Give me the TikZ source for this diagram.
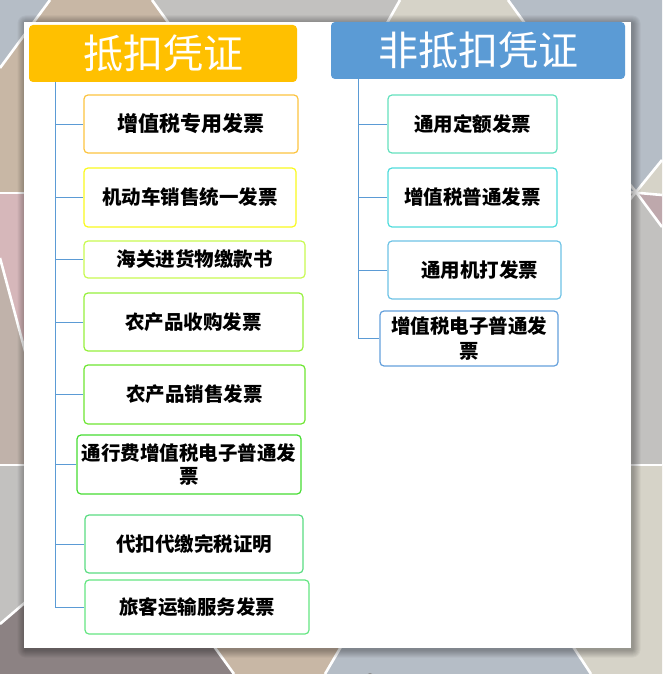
\documentclass[tikz,border=0pt]{standalone}
\usepackage{fontspec}
\setmainfont{Noto Sans CJK SC}
\definecolor{bggray}{RGB}{194,193,191}
\definecolor{bgblue}{RGB}{181,189,198}
\definecolor{bgbeige}{RGB}{200,183,165}
\definecolor{bglbeige}{RGB}{214,211,200}
\definecolor{bgpink}{RGB}{214,183,186}
\definecolor{bgtaupe}{RGB}{192,178,170}
\definecolor{bgmauve}{RGB}{140,130,131}
\definecolor{bgrpink}{RGB}{190,168,172}
\definecolor{hdrorange}{RGB}{255,192,0}
\definecolor{hdrblue}{RGB}{91,155,213}
\definecolor{lineblue}{RGB}{91,155,213}
\definecolor{cA}{RGB}{252,196,64}
\definecolor{cB}{RGB}{250,250,30}
\definecolor{cC}{RGB}{200,250,80}
\definecolor{cD}{RGB}{150,240,60}
\definecolor{cE}{RGB}{110,230,50}
\definecolor{cF}{RGB}{70,220,50}
\definecolor{cG}{RGB}{90,220,130}
\definecolor{cH}{RGB}{100,230,130}
\definecolor{rA}{RGB}{100,225,190}
\definecolor{rB}{RGB}{80,220,220}
\definecolor{rC}{RGB}{110,195,230}
\definecolor{rD}{RGB}{100,160,220}
\begin{document}
\begin{tikzpicture}[x=1pt,y=-1pt,
  box/.style={draw, line width=1.2pt, rounded corners=4pt, fill=white,
    font=\bfseries\fontsize{19.5}{24}\selectfont, align=center, inner sep=0pt},
  hdr/.style={rounded corners=4pt, text=white, inner sep=0pt,
    font=\fontsize{40}{44}\selectfont},
  link/.style={draw=lineblue, line width=0.9pt},
  wline/.style={draw=white, line width=2.6pt}]
\useasboundingbox (0,0) rectangle (662,674);
% background mosaic
\fill[bggray] (0,0) rectangle (662,674);
\fill[bgblue] (0,0) -- (50,0) -- (0,68) -- cycle;
\fill[bgbeige] (50,0) -- (152,0) -- (175,32) -- (175,193) -- (0,193) -- (0,68) -- cycle;
\fill[bglbeige] (400,0) -- (508,0) -- (530,32) -- (380,32) -- cycle;
\fill[bgblue] (508,0) -- (662,0) -- (662,160) -- (636,192) -- (620,192) -- (620,32) -- (530,32) -- cycle;
\fill[bglbeige] (636,192) -- (662,160) -- (662,195) -- cycle;
\fill[bgrpink] (636,193) -- (662,195) -- (662,227) -- cycle;
\fill[bglbeige] (600,465) -- (662,465) -- (662,674) -- (591,674) -- (574,648) -- (600,640) -- cycle;
\fill[bgblue] (340,640) -- (574,648) -- (591,674) -- (325,674) -- cycle;
\fill[bgbeige] (215,648) -- (340,648) -- (325,674) -- (234,674) -- cycle;
\fill[bgmauve] (0,624) -- (30,598) -- (30,648) -- (215,648) -- (234,674) -- (0,674) -- cycle;
\fill[bgpink] (0,193) -- (30,193) -- (30,374) -- (0,258) -- cycle;
\fill[bgtaupe] (0,258) -- (30,374) -- (30,465) -- (0,465) -- cycle;
\draw[wline] (50,0) -- (0,68);
\draw[wline] (152,0) -- (170,25);
\draw[wline] (400,0) -- (386,25);
\draw[wline] (508,0) -- (526,25);
\draw[wline] (0,193) -- (28,193);
\draw[wline] (0,258) -- (28,362);
\draw[wline] (0,465) -- (28,465);
\draw[wline] (0,624) -- (28,600);
\draw[wline] (213,645) -- (234,674);
\draw[wline] (342,645) -- (325,674);
\draw[wline] (572,645) -- (591,674);
\draw[wline] (628,465) -- (662,465);
\draw[wline] (628,202) -- (636,192) -- (662,160);
\draw[wline] (628,182) -- (636,192) -- (662,227);
\draw[wline] (628,192) -- (662,195);
\draw[gray, fill=white, line width=0.8pt] (370,677) circle (3.5);
% panel shadow and panel
\foreach \i in {1,...,8}
  \fill[black, opacity=0.04, rounded corners=\i pt] ({24-\i+1.5},{22-\i+1.5}) rectangle ({631+\i+1.5},{648+\i+1.5});
\fill[white] (24,22) rectangle (631,648);
% headers
\node[hdr, fill=hdrorange, minimum width=268, minimum height=57] (hL) at (163,53.5) {抵扣凭证};
\node[hdr, fill=hdrblue, minimum width=294, minimum height=57] (hR) at (478,50.5) {非抵扣凭证};
% left boxes
\node[box, draw=cA, minimum width=214, minimum height=58, font=\bfseries\fontsize{21}{24}\selectfont] (L1) at (191,124) {增值税专用发票};
\node[box, draw=cB, minimum width=212, minimum height=59] (L2) at (190,197.5) {机动车销售统一发票};
\node[box, draw=cC, minimum width=221, minimum height=37] (L3) at (194.5,259.5) {海关进货物缴款书};
\node[box, draw=cD, minimum width=219, minimum height=58] (L4) at (193.5,322) {农产品收购发票};
\node[box, draw=cE, minimum width=221, minimum height=59] (L5) at (194.5,394.5) {农产品销售发票};
\node[box, draw=cF, minimum width=224, minimum height=59, font=\bfseries\fontsize{19.5}{23}\selectfont] (L6) at (189,464.5) {通行费增值税电子普通发\\票};
\node[box, draw=cG, minimum width=218, minimum height=58] (L7) at (194,544) {代扣代缴完税证明};
\node[box, draw=cH, minimum width=224, minimum height=54] (L8) at (197,607) {旅客运输服务发票};
% right boxes
\node[box, draw=rA, minimum width=169, minimum height=58] (R1) at (472.5,124) {通用定额发票};
\node[box, draw=rB, minimum width=169, minimum height=59] (R2) at (472.5,197.5) {增值税普通发票};
\node[box, draw=rC, minimum width=173, minimum height=58] (R3) at (474.5,270) {\hspace{10pt}通用机打发票};
\node[box, draw=rD, minimum width=178, minimum height=55, font=\bfseries\fontsize{19.5}{25}\selectfont] (R4) at (469,338.5) {增值税电子普通发\\票};
% trunks and branches
\coordinate (tL) at (55,82);
\coordinate (tR) at (358,79);
\draw[link] (tL) -- (tL |- L8.west);
\foreach \n in {L1,L2,L3,L4,L5,L6,L7,L8}
  \draw[link] (tL |- \n.west) -- (\n.west);
\draw[link] (tR) -- (tR |- R4.west);
\foreach \n in {R1,R2,R3,R4}
  \draw[link] (tR |- \n.west) -- (\n.west);
\end{tikzpicture}
\end{document}
